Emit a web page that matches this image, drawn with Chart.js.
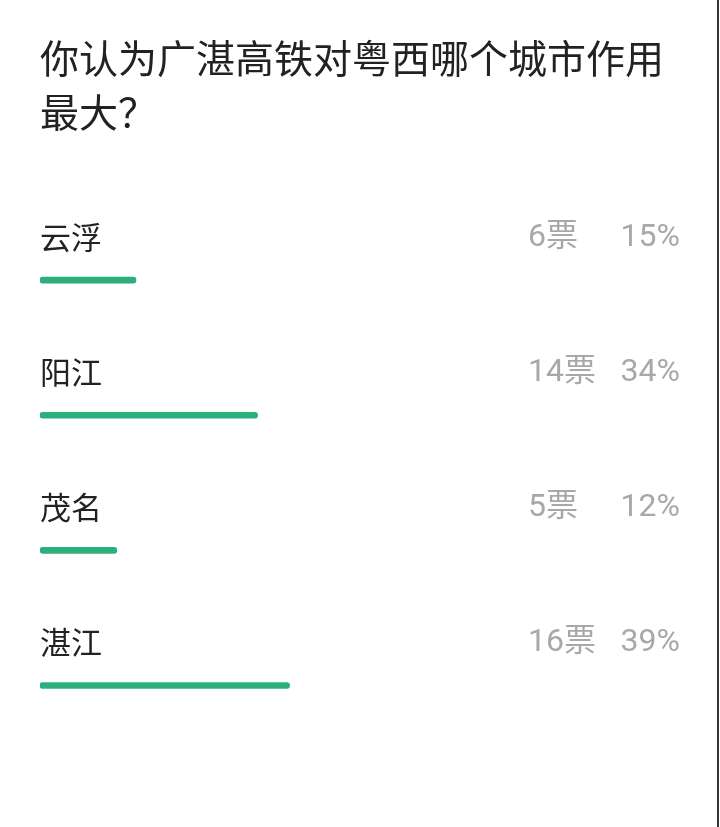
<!DOCTYPE html>
<html><head><meta charset="utf-8">
<script src="https://cdn.jsdelivr.net/npm/chart.js@4"></script>
<style>html,body{margin:0;padding:0;background:#fff;}#wrap{width:720px;height:827px;position:relative;}</style>
</head><body><div id="wrap"><canvas id="c" width="720" height="827"></canvas></div>
<script>
const titleLines = ['你认为广湛高铁对粤西哪个城市作用', '最大？'];
const cities = ['云浮', '阳江', '茂名', '湛江'];
const votes = [6, 14, 5, 16];
const percents = [15, 34, 12, 39];

const labelPlugin = {
  id: 'pollLabels',
  afterDatasetsDraw(chart) {
    const ctx = chart.ctx;
    const xs = chart.scales.x, ys = chart.scales.y;
    ctx.save();
    ctx.textBaseline = 'middle';
    cities.forEach((c, i) => {
      const yc = ys.getPixelForValue(i) - 43;
      ctx.font = '31px "Noto Sans CJK SC", sans-serif';
      ctx.fillStyle = '#222';
      ctx.textAlign = 'left';
      ctx.fillText(c, xs.left, yc);
      ctx.font = '32px Roboto, "Noto Sans CJK SC", sans-serif';
      ctx.fillStyle = '#a8a8a8';
      ctx.textAlign = 'right';
      ctx.fillText(percents[i] + '%', xs.right, yc + 1);
      ctx.textAlign = 'left';
      ctx.fillText(votes[i] + '票', xs.left + (xs.right - xs.left) * 0.7625, yc + 1);
    });
    ctx.fillStyle = '#333';
    ctx.fillRect(717, 0, 2, chart.height);
    ctx.restore();
  }
};

new Chart(document.getElementById('c'), {
  type: 'bar',
  data: {
    labels: cities,
    datasets: [{
      data: percents,
      backgroundColor: '#2bb07b',
      borderWidth: 0,
      borderRadius: 3,
      borderSkipped: false,
      barThickness: 6
    }]
  },
  options: {
    indexAxis: 'y',
    responsive: false,
    animation: false,
    layout: { padding: { left: 40, right: 40, top: 0, bottom: 74 } },
    scales: {
      x: { min: 0, max: 100, display: false },
      y: { display: false, offset: true }
    },
    plugins: {
      legend: { display: false },
      tooltip: { enabled: false },
      title: {
        display: true,
        text: titleLines,
        align: 'start',
        color: '#222',
        font: { size: 39, family: '"Noto Sans CJK SC", sans-serif', weight: 'normal', lineHeight: 1.38 },
        padding: { top: 31, bottom: 74 }
      }
    }
  },
  plugins: [labelPlugin]
});
</script></body></html>
